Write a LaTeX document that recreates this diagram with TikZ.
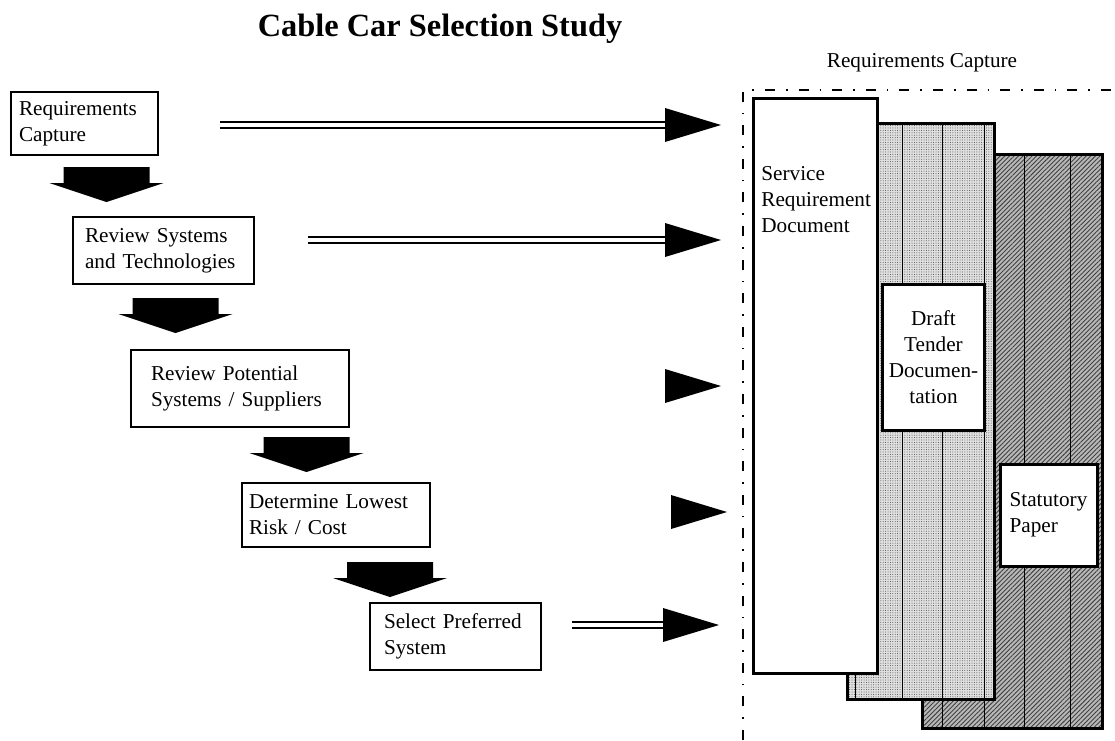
\documentclass[tikz,border=0pt]{standalone}
\usepackage{fontspec}
\setmainfont{Liberation Serif}
\usetikzlibrary{patterns.meta}

\newcommand{\boxfont}{\fontsize{10.6}{13}\selectfont}

\begin{document}
\begin{tikzpicture}[x=0.5pt, y=-0.5pt]
\tikzset{
  stagebox/.style={draw, line width=1.2pt, align=left, font=\boxfont},
  docsheet/.style={draw, line width=1.5pt},
  sheetrule/.style={line width=0.5pt},
  feed/.style={double, double distance=1.8pt, line width=1pt},
  flowdown/.pic={\fill (-43,0) -- (43,0) -- (43,16) -- (57,16) -- (0,35) -- (-57,16) -- (-43,16) -- cycle;},
  tiphead/.pic={\fill (0,-17) -- (56,0) -- (0,17) -- cycle;}
}
\useasboundingbox (0,0) rectangle (1115,740);

% title
\node[font=\fontsize{16.2}{19}\selectfont\bfseries, anchor=base] (title) at (440,36) {Cable Car Selection Study};

% study stages
\node[stagebox, inner xsep=4pt, text width=65.5pt, minimum height=31.5pt] (capture) at (84.5,123.5) {Requirements\\Capture};
\node[stagebox, inner xsep=6pt, text width=78.5pt, minimum height=33.5pt] (systems) at (163.5,250.5) {Review Systems\\and Technologies};
\node[stagebox, inner xsep=10pt, text width=89pt, minimum height=38.5pt] (suppliers) at (240,388.5) {Review Potential\\Systems / Suppliers};
\node[stagebox, inner xsep=3.5pt, text width=87pt, minimum height=32pt] (lowrisk) at (336,515) {Determine Lowest\\Risk / Cost};
\node[stagebox, inner xsep=7pt, text width=71.5pt, minimum height=33.5pt] (preferred) at (455.5,636.5) {Select Preferred\\System};

% block arrows between stages
\pic at (106.5,167) {flowdown};
\pic at (175.5,298) {flowdown};
\pic at (306.5,437) {flowdown};
\pic at (390,562) {flowdown};

% feeds into the documents
\coordinate (f1s) at (220,125);
\coordinate (f1h) at (665,125);
\coordinate (f2s) at (308,240);
\coordinate (f2h) at (665,240);
\coordinate (f3h) at (665,386);
\coordinate (f4h) at (671,512);
\coordinate (f5s) at (572,625);
\coordinate (f5h) at (663,625);
\draw[feed] (f1s) -- (f1h);
\draw[feed] (f2s) -- (f2h);
\draw[feed] (f5s) -- (f5h);
\foreach \h in {f1h,f2h,f3h,f4h,f5h}
  \pic at (\h) {tiphead};

% requirements capture frame
\node[font=\boxfont, anchor=base] (framelabel) at (922,67) {Requirements Capture};
\draw[line width=0.6pt, dash pattern=on 5pt off 5.5pt on 0.8pt off 5.5pt] (743,740) -- (743,90) -- (1115,90);

% back sheet
\path[preaction={fill=black!28}, pattern={Lines[angle=45,distance=1.6pt,line width=0.45pt]}, pattern color=black!75] (922,154) rectangle (1102,728);
\foreach \x in {942,984,1024,1070}
  \draw[sheetrule] (\x,154) -- (\x,728);
\draw[docsheet] (922,154) rectangle (1102,728);
\node[docsheet, fill=white, minimum width=48.5pt, minimum height=51pt, align=left, font=\boxfont] (statpaper) at (1048.5,515) {Statutory\\Paper};

% middle sheet
\path[preaction={fill=black!12}, pattern={Dots[radius=0.25pt,distance=1.2pt]}, pattern color=black!70] (847,123) rectangle (994,699);
\foreach \x in {855,902,942,984}
  \draw[sheetrule] (\x,123) -- (\x,699);
\draw[docsheet] (847,123) rectangle (994,699);
\node[docsheet, fill=white, minimum width=50.5pt, minimum height=73pt, align=center, font=\boxfont] (tender) at (933.5,357) {Draft\\Tender\\Documen-\\tation};

% front sheet
\node[docsheet, fill=white, minimum width=62pt, minimum height=287.5pt] (service) at (815,385.5) {};
\node[anchor=north west, inner sep=0pt, align=left, font=\boxfont] (servicetext) at (761,166) {Service\\Requirement\\Document};
\end{tikzpicture}
\end{document}
